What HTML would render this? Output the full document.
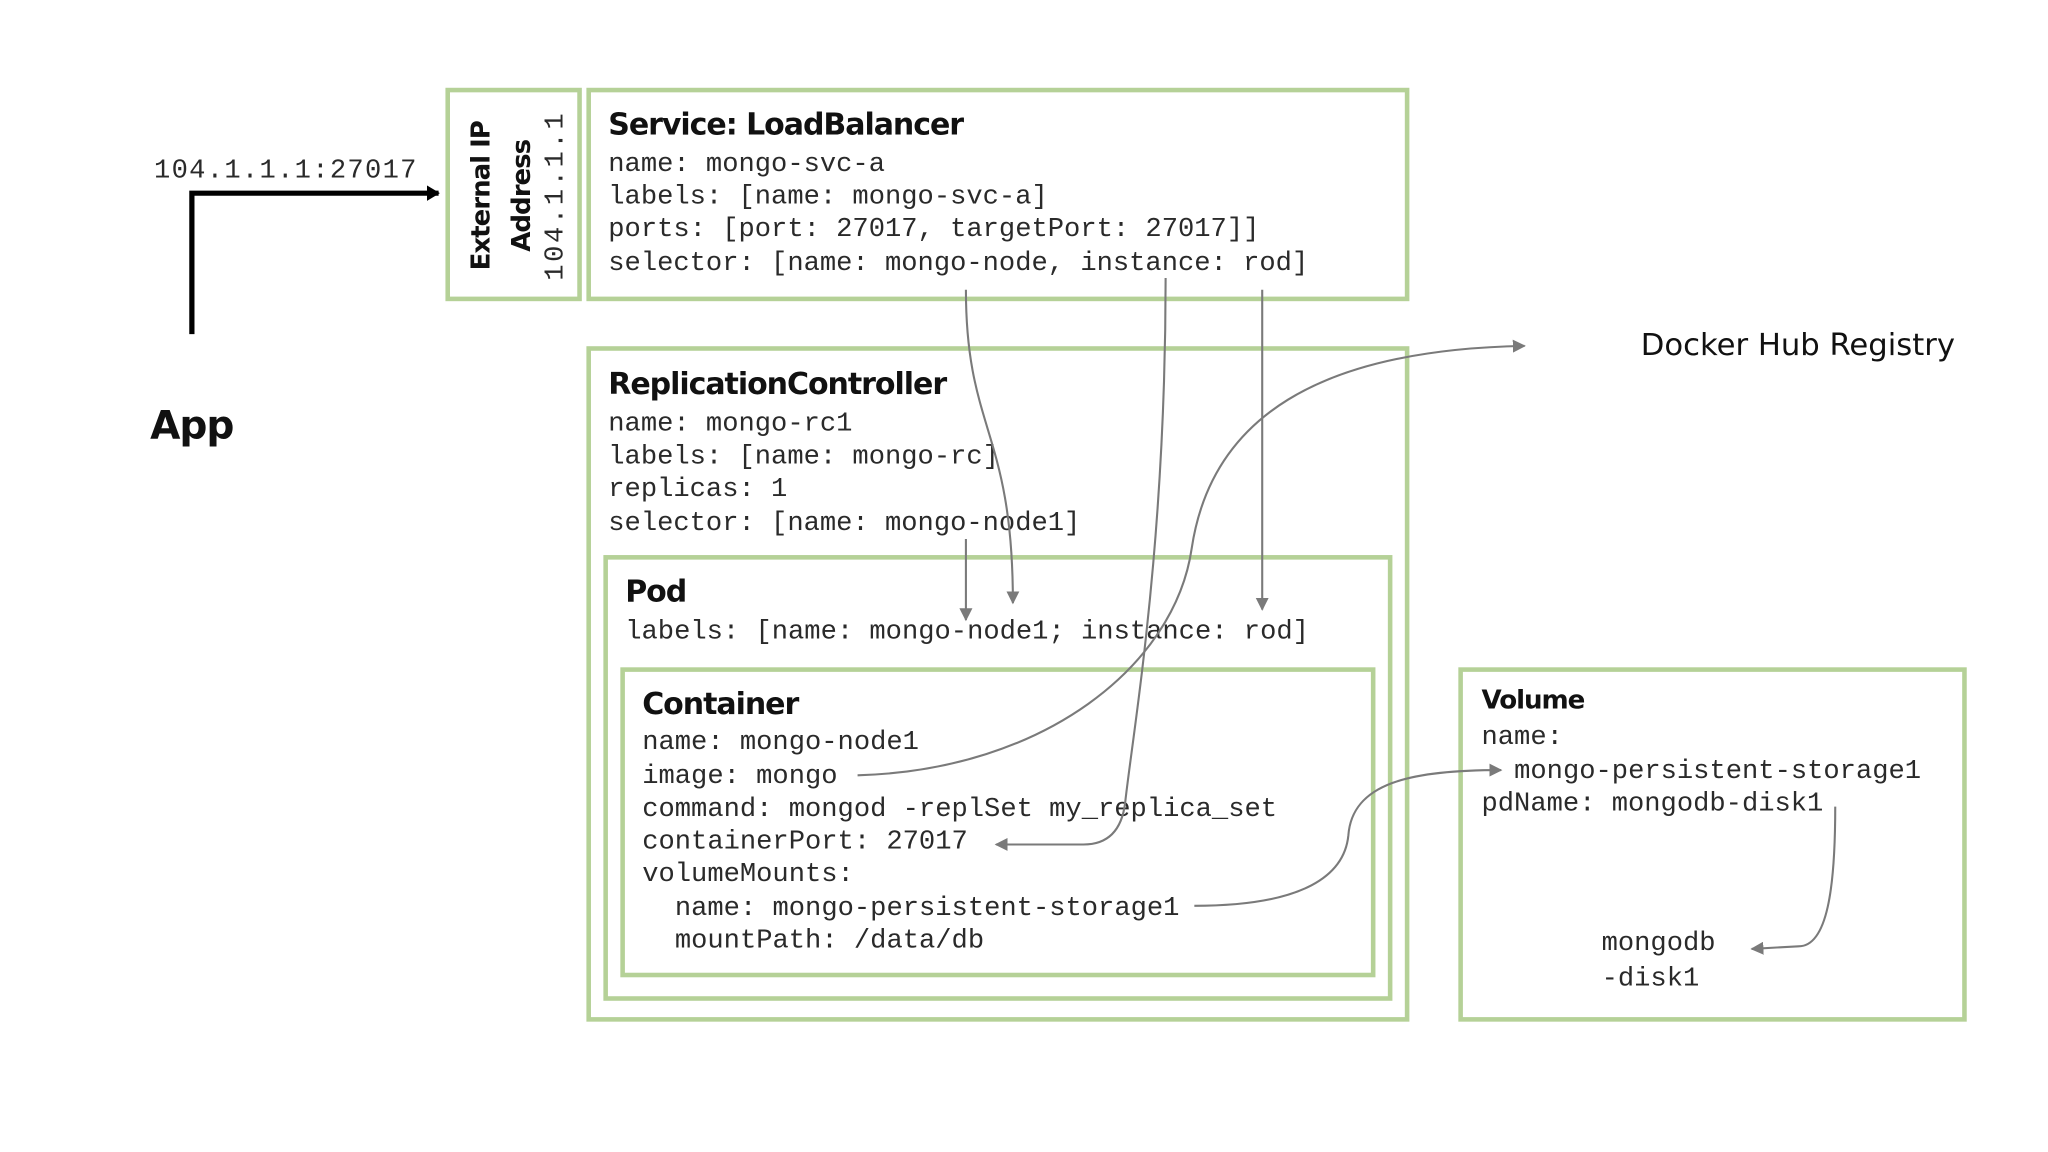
<!DOCTYPE html>
<html><head><meta charset="utf-8"><style>
html,body{margin:0;padding:0;background:#fff;}
svg{display:block}
.m{font-family:"Liberation Mono","Courier New",monospace;font-size:20.8px;fill:#2a2a2a}
.h{font-family:"DejaVu Sans","Liberation Sans",sans-serif;font-weight:bold;fill:#111;letter-spacing:-0.8px}
.b{fill:none;stroke:#b5d197;stroke-width:3.5}
.c{fill:none;stroke:#7a7a7a;stroke-width:1.6}
</style></head><body>
<svg width="2048" height="1152" viewBox="0 0 1569 882.6" preserveAspectRatio="none" xmlns="http://www.w3.org/2000/svg">
<defs>
<marker id="a" markerWidth="10" markerHeight="10" refX="9" refY="5" orient="auto" markerUnits="userSpaceOnUse"><path d="M0,0 L10,5 L0,10 z" fill="#7a7a7a"/></marker>
<marker id="k" markerWidth="10" markerHeight="12" refX="9" refY="6" orient="auto" markerUnits="userSpaceOnUse"><path d="M0,0 L10,6 L0,12 z" fill="#000"/></marker>
</defs>
<rect class="b" x="343" y="69" width="101" height="160"/>
<rect class="b" x="451" y="69" width="627" height="160"/>
<rect class="b" x="451" y="267" width="627" height="514"/>
<rect class="b" x="464" y="427" width="601" height="338"/>
<rect class="b" x="477" y="513" width="575" height="234"/>
<rect class="b" x="1119" y="513" width="386" height="268"/>

<text class="m" x="118" y="136" letter-spacing="1">104.1.1.1:27017</text>
<path d="M147,256 L147,148 L336,148" fill="none" stroke="#000" stroke-width="4" marker-end="url(#k)"/>
<text class="h" x="115" y="336" font-size="30">App</text>

<text class="h" font-size="20" transform="translate(375,150) rotate(-90)" text-anchor="middle">External IP</text>
<text class="h" font-size="20" transform="translate(406,150) rotate(-90)" text-anchor="middle">Address</text>
<text class="m" font-size="18" transform="translate(431,150) rotate(-90)" text-anchor="middle" letter-spacing="2">104.1.1.1</text>

<text class="h" x="466" y="103" font-size="23">Service: LoadBalancer</text>
<text class="m" x="466" y="131">name: mongo-svc-a</text>
<text class="m" x="466" y="156">labels: [name: mongo-svc-a]</text>
<text class="m" x="466" y="181">ports: [port: 27017, targetPort: 27017]]</text>
<text class="m" x="466" y="207">selector: [name: mongo-node, instance: rod]</text>

<text class="h" x="466" y="302" font-size="23">ReplicationController</text>
<text class="m" x="466" y="330">name: mongo-rc1</text>
<text class="m" x="466" y="355">labels: [name: mongo-rc]</text>
<text class="m" x="466" y="380">replicas: 1</text>
<text class="m" x="466" y="406">selector: [name: mongo-node1]</text>

<text class="h" x="479" y="461" font-size="23">Pod</text>
<text class="m" x="479" y="489">labels: [name: mongo-node1; instance: rod]</text>

<text class="h" x="492" y="547" font-size="23">Container</text>
<text class="m" x="492" y="574">name: mongo-node1</text>
<text class="m" x="492" y="600">image: mongo</text>
<text class="m" x="492" y="625">command: mongod -replSet my_replica_set</text>
<text class="m" x="492" y="650">containerPort: 27017</text>
<text class="m" x="492" y="675">volumeMounts:</text>
<text class="m" x="517" y="701">name: mongo-persistent-storage1</text>
<text class="m" x="517" y="726">mountPath: /data/db</text>

<text class="h" x="1135" y="543" font-size="20">Volume</text>
<text class="m" x="1135" y="570">name:</text>
<text class="m" x="1160" y="596">mongo-persistent-storage1</text>
<text class="m" x="1135" y="621">pdName: mongodb-disk1</text>
<text class="m" x="1227" y="728">mongodb</text>
<text class="m" x="1227" y="755">-disk1</text>

<text x="1257" y="272" font-family="DejaVu Sans, Liberation Sans, sans-serif" font-size="23.5" fill="#111">Docker Hub Registry</text>

<path class="c" d="M740,222 C740,330 776,330 776,462" marker-end="url(#a)"/>
<path class="c" d="M740,413 L740,475" marker-end="url(#a)"/>
<path class="c" d="M893,213 C893,420 868,560 862,615 Q858,647 830,647 L763,647" marker-end="url(#a)"/>
<path class="c" d="M967,222 L967,467" marker-end="url(#a)"/>
<path class="c" d="M657,594 C800,590 900,510 913,420 C928,320 1010,268 1168,265" marker-end="url(#a)"/>
<path class="c" d="M915,694 C1000,694 1030,670 1033,640 C1036,600 1080,590 1150,590" marker-end="url(#a)"/>
<path class="c" d="M1406,618 C1406,680 1400,725 1378,725 L1342,727" marker-end="url(#a)"/>
</svg>
</body></html>
